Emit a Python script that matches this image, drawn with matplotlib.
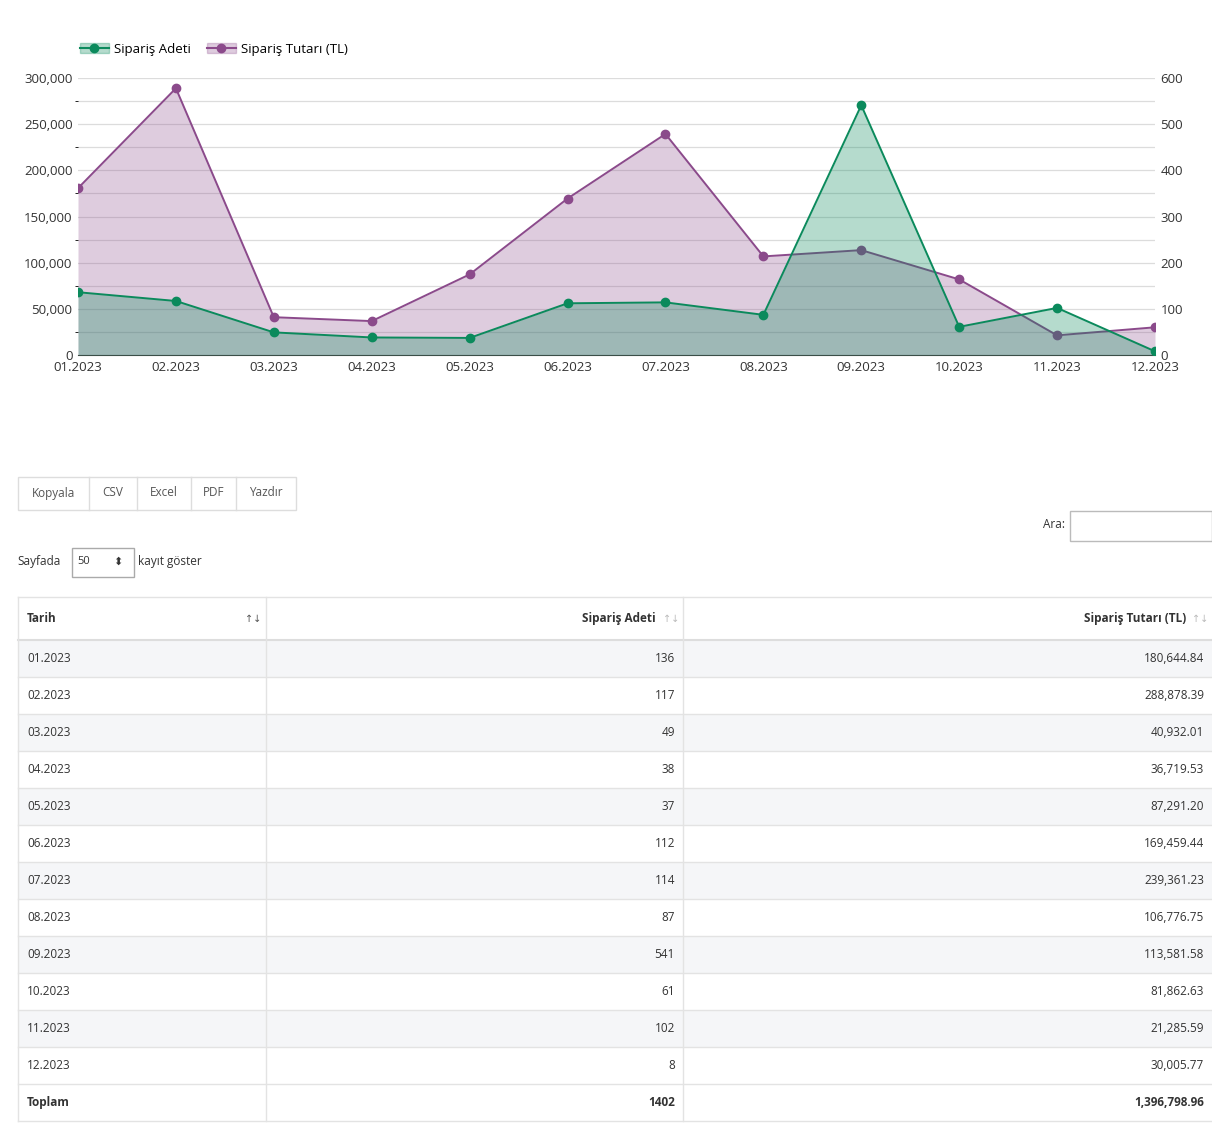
import matplotlib.pyplot as plt
from matplotlib.patches import Rectangle, Patch
from matplotlib.lines import Line2D
from matplotlib.ticker import FuncFormatter, MultipleLocator

plt.rcParams['font.family'] = ['Open Sans', 'DejaVu Sans']

months = ["01.2023", "02.2023", "03.2023", "04.2023", "05.2023", "06.2023",
          "07.2023", "08.2023", "09.2023", "10.2023", "11.2023", "12.2023"]
adet = [136, 117, 49, 38, 37, 112, 114, 87, 541, 61, 102, 8]
tutar = [180644.84, 288878.39, 40932.01, 36719.53, 87291.20, 169459.44,
         239361.23, 106776.75, 113581.58, 81862.63, 21285.59, 30005.77]
toplam_adet = "1402"
toplam_tutar = "1,396,798.96"

GREEN = "#0b8a5c"
PURPLE = "#8b4a8b"
W, H = 1212, 1140

fig = plt.figure(figsize=(W / 100, H / 100), dpi=100)

def fx(x):
    return x / W

def fy(y):
    return 1 - y / H

# ----- chart -----
ax = fig.add_axes([fx(78), fy(355), fx(1155) - fx(78), fy(78) - fy(355)])
x = list(range(len(months)))
ax.fill_between(x, tutar, color=PURPLE, alpha=0.28, lw=0)
ax.plot(x, tutar, color=PURPLE, lw=1.4, marker='o', ms=6, zorder=3)
ax.set_ylim(0, 300000)
ax.set_xlim(0, len(months) - 1)
ax.yaxis.set_major_locator(MultipleLocator(50000))
ax.yaxis.set_minor_locator(MultipleLocator(25000))
ax.yaxis.set_major_formatter(FuncFormatter(lambda v, p: f"{int(v):,}"))
ax.grid(True, which='both', axis='y', color='#dcdcdc', lw=0.9)
ax.set_xticks(x)
ax.set_xticklabels(months)
ax.set_axisbelow(True)

ax2 = ax.twinx()
ax2.fill_between(x, adet, color=GREEN, alpha=0.3, lw=0)
ax2.plot(x, adet, color=GREEN, lw=1.4, marker='o', ms=6, zorder=3)
ax2.set_ylim(0, 600)
ax2.yaxis.set_major_locator(MultipleLocator(100))

for a in (ax, ax2):
    for s in a.spines.values():
        s.set_visible(False)
    a.tick_params(length=0, labelsize=9.5, colors='#333333', pad=4)
ax.spines['bottom'].set_visible(True)
ax.spines['bottom'].set_color('#444444')

handles = [(Patch(color=GREEN, alpha=0.3), Line2D([], [], color=GREEN, marker='o', ms=6)),
           (Patch(color=PURPLE, alpha=0.28), Line2D([], [], color=PURPLE, marker='o', ms=6))]
fig.legend(handles, ["Sipariş Adeti", "Sipariş Tutarı (TL)"], loc='center left',
           bbox_to_anchor=(fx(68), fy(49)), ncol=2, frameon=False, fontsize=9.5,
           handlelength=2.2, columnspacing=1.2, handletextpad=0.4)

# ----- buttons -----
fig.add_artist(Rectangle((fx(18), fy(510)), fx(296) - fx(18), fy(477) - fy(510),
                         transform=fig.transFigure, fill=False, ec='#dddddd', lw=1))
btns = ["Kopyala", "CSV", "Excel", "PDF", "Yazdır"]
edges = [18, 89, 137, 191, 236, 296]
for i, b in enumerate(btns):
    fig.text(fx((edges[i] + edges[i + 1]) / 2), fy(493), b, ha='center', va='center',
             fontsize=8.5, color='#555555')
    if i > 0:
        fig.add_artist(Line2D([fx(edges[i])] * 2, [fy(477), fy(510)], color='#dddddd', lw=1))

fig.text(fx(1065), fy(525), "Ara:", ha='right', va='center', fontsize=8.5, color='#333333')
fig.add_artist(Rectangle((fx(1070), fy(541)), fx(1212) - fx(1070), fy(511) - fy(541),
                         transform=fig.transFigure, fill=False, ec='#bbbbbb', lw=1))
fig.text(fx(17), fy(562), "Sayfada", ha='left', va='center', fontsize=8.5, color='#333333')
fig.add_artist(Rectangle((fx(72), fy(577)), fx(134) - fx(72), fy(548) - fy(577),
                         transform=fig.transFigure, fill=False, ec='#aaaaaa', lw=1))
fig.text(fx(77), fy(562), "50", ha='left', va='center', fontsize=8, color='#333333')
fig.text(fx(118), fy(562), "⬍", ha='center', va='center', fontsize=8, color='#333333',
         family='DejaVu Sans')
fig.text(fx(138), fy(562), "kayıt göster", ha='left', va='center', fontsize=8.5, color='#333333')

# ----- table -----
cols = [18, 266, 683, 1212]
top, head_h, row_h = 597, 43, 37
rows = [(m, str(a), f"{t:,.2f}") for m, a, t in zip(months, adet, tutar)]
rows.append(("Toplam", toplam_adet, toplam_tutar))
n = len(rows)
bottom = top + head_h + n * row_h

for i in range(n):
    y0 = top + head_h + i * row_h
    if i % 2 == 0 and i < n - 1:
        fig.add_artist(Rectangle((fx(18), fy(y0 + row_h)), fx(1212) - fx(18), fy(y0) - fy(y0 + row_h),
                                 transform=fig.transFigure, color='#f5f6f8', lw=0))
    fig.add_artist(Line2D([fx(18), fx(1212)], [fy(y0 + row_h)] * 2, color='#e3e3e3', lw=1))
fig.add_artist(Line2D([fx(18), fx(1212)], [fy(top)] * 2, color='#e3e3e3', lw=1))
fig.add_artist(Line2D([fx(18), fx(1212)], [fy(top + head_h)] * 2, color='#dddddd', lw=1.5))
for c in cols[:3]:
    fig.add_artist(Line2D([fx(c)] * 2, [fy(top), fy(bottom)], color='#e3e3e3', lw=1))

hy = top + head_h / 2
fig.text(fx(27), fy(hy), "Tarih", ha='left', va='center', fontsize=8.5, weight='bold', color='#333333')
fig.text(fx(656), fy(hy), "Sipariş Adeti", ha='right', va='center', fontsize=8.5, weight='bold', color='#333333')
fig.text(fx(1186), fy(hy), "Sipariş Tutarı (TL)", ha='right', va='center', fontsize=8.5, weight='bold', color='#333333')
for xs, col in [(253, '#555555'), (671, '#bbbbbb'), (1200, '#bbbbbb')]:
    fig.text(fx(xs), fy(hy), "↑↓", ha='center', va='center', fontsize=7, color=col, family='DejaVu Sans')

for i, (m, a, t) in enumerate(rows):
    yc = top + head_h + i * row_h + row_h / 2
    w = 'bold' if i == n - 1 else 'normal'
    fig.text(fx(27), fy(yc), m, ha='left', va='center', fontsize=8.5, color='#333333', weight=w)
    fig.text(fx(675), fy(yc), a, ha='right', va='center', fontsize=8.5, color='#333333', weight=w)
    fig.text(fx(1204), fy(yc), t, ha='right', va='center', fontsize=8.5, color='#333333', weight=w)

fig.savefig("out.png", dpi=100)
